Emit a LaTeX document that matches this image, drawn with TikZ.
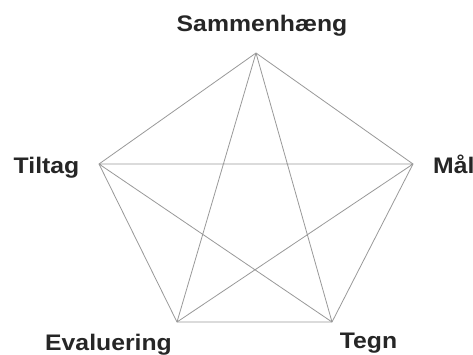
\documentclass[tikz,border=0pt]{standalone}
\usepackage{fontspec}
\setmainfont[FakeStretch=1.1]{Liberation Sans}
\begin{document}
\begin{tikzpicture}[x=1pt,y=-1pt,
  edge/.style={draw=black!40, line width=0.8pt},
  lbl/.style={font=\fontsize{22.5}{22.5}\selectfont\bfseries, text=black!85, inner sep=0pt, anchor=base}]
\useasboundingbox[fill=white] (0,0) rectangle (473,354);
\coordinate (S) at (256,53);
\coordinate (M) at (413,164);
\coordinate (T) at (332,322);
\coordinate (E) at (177,322);
\coordinate (L) at (99,164);
\draw[edge] (S) -- (M) -- (T) -- (E) -- (L) -- cycle;
\draw[edge] (S) -- (T) (S) -- (E) (M) -- (E) (M) -- (L) (L) -- (T);
\node[lbl] (lS) at (262,31) {Sammenhæng};
\node[lbl] (lL) at (46.5,173) {Tiltag};
\node[lbl, anchor=base west] (lM) at (433,173) {Mål};
\node[lbl] (lE) at (108.5,350) {Evaluering};
\node[lbl] (lT) at (368.5,348) {Tegn};
\end{tikzpicture}
\end{document}
